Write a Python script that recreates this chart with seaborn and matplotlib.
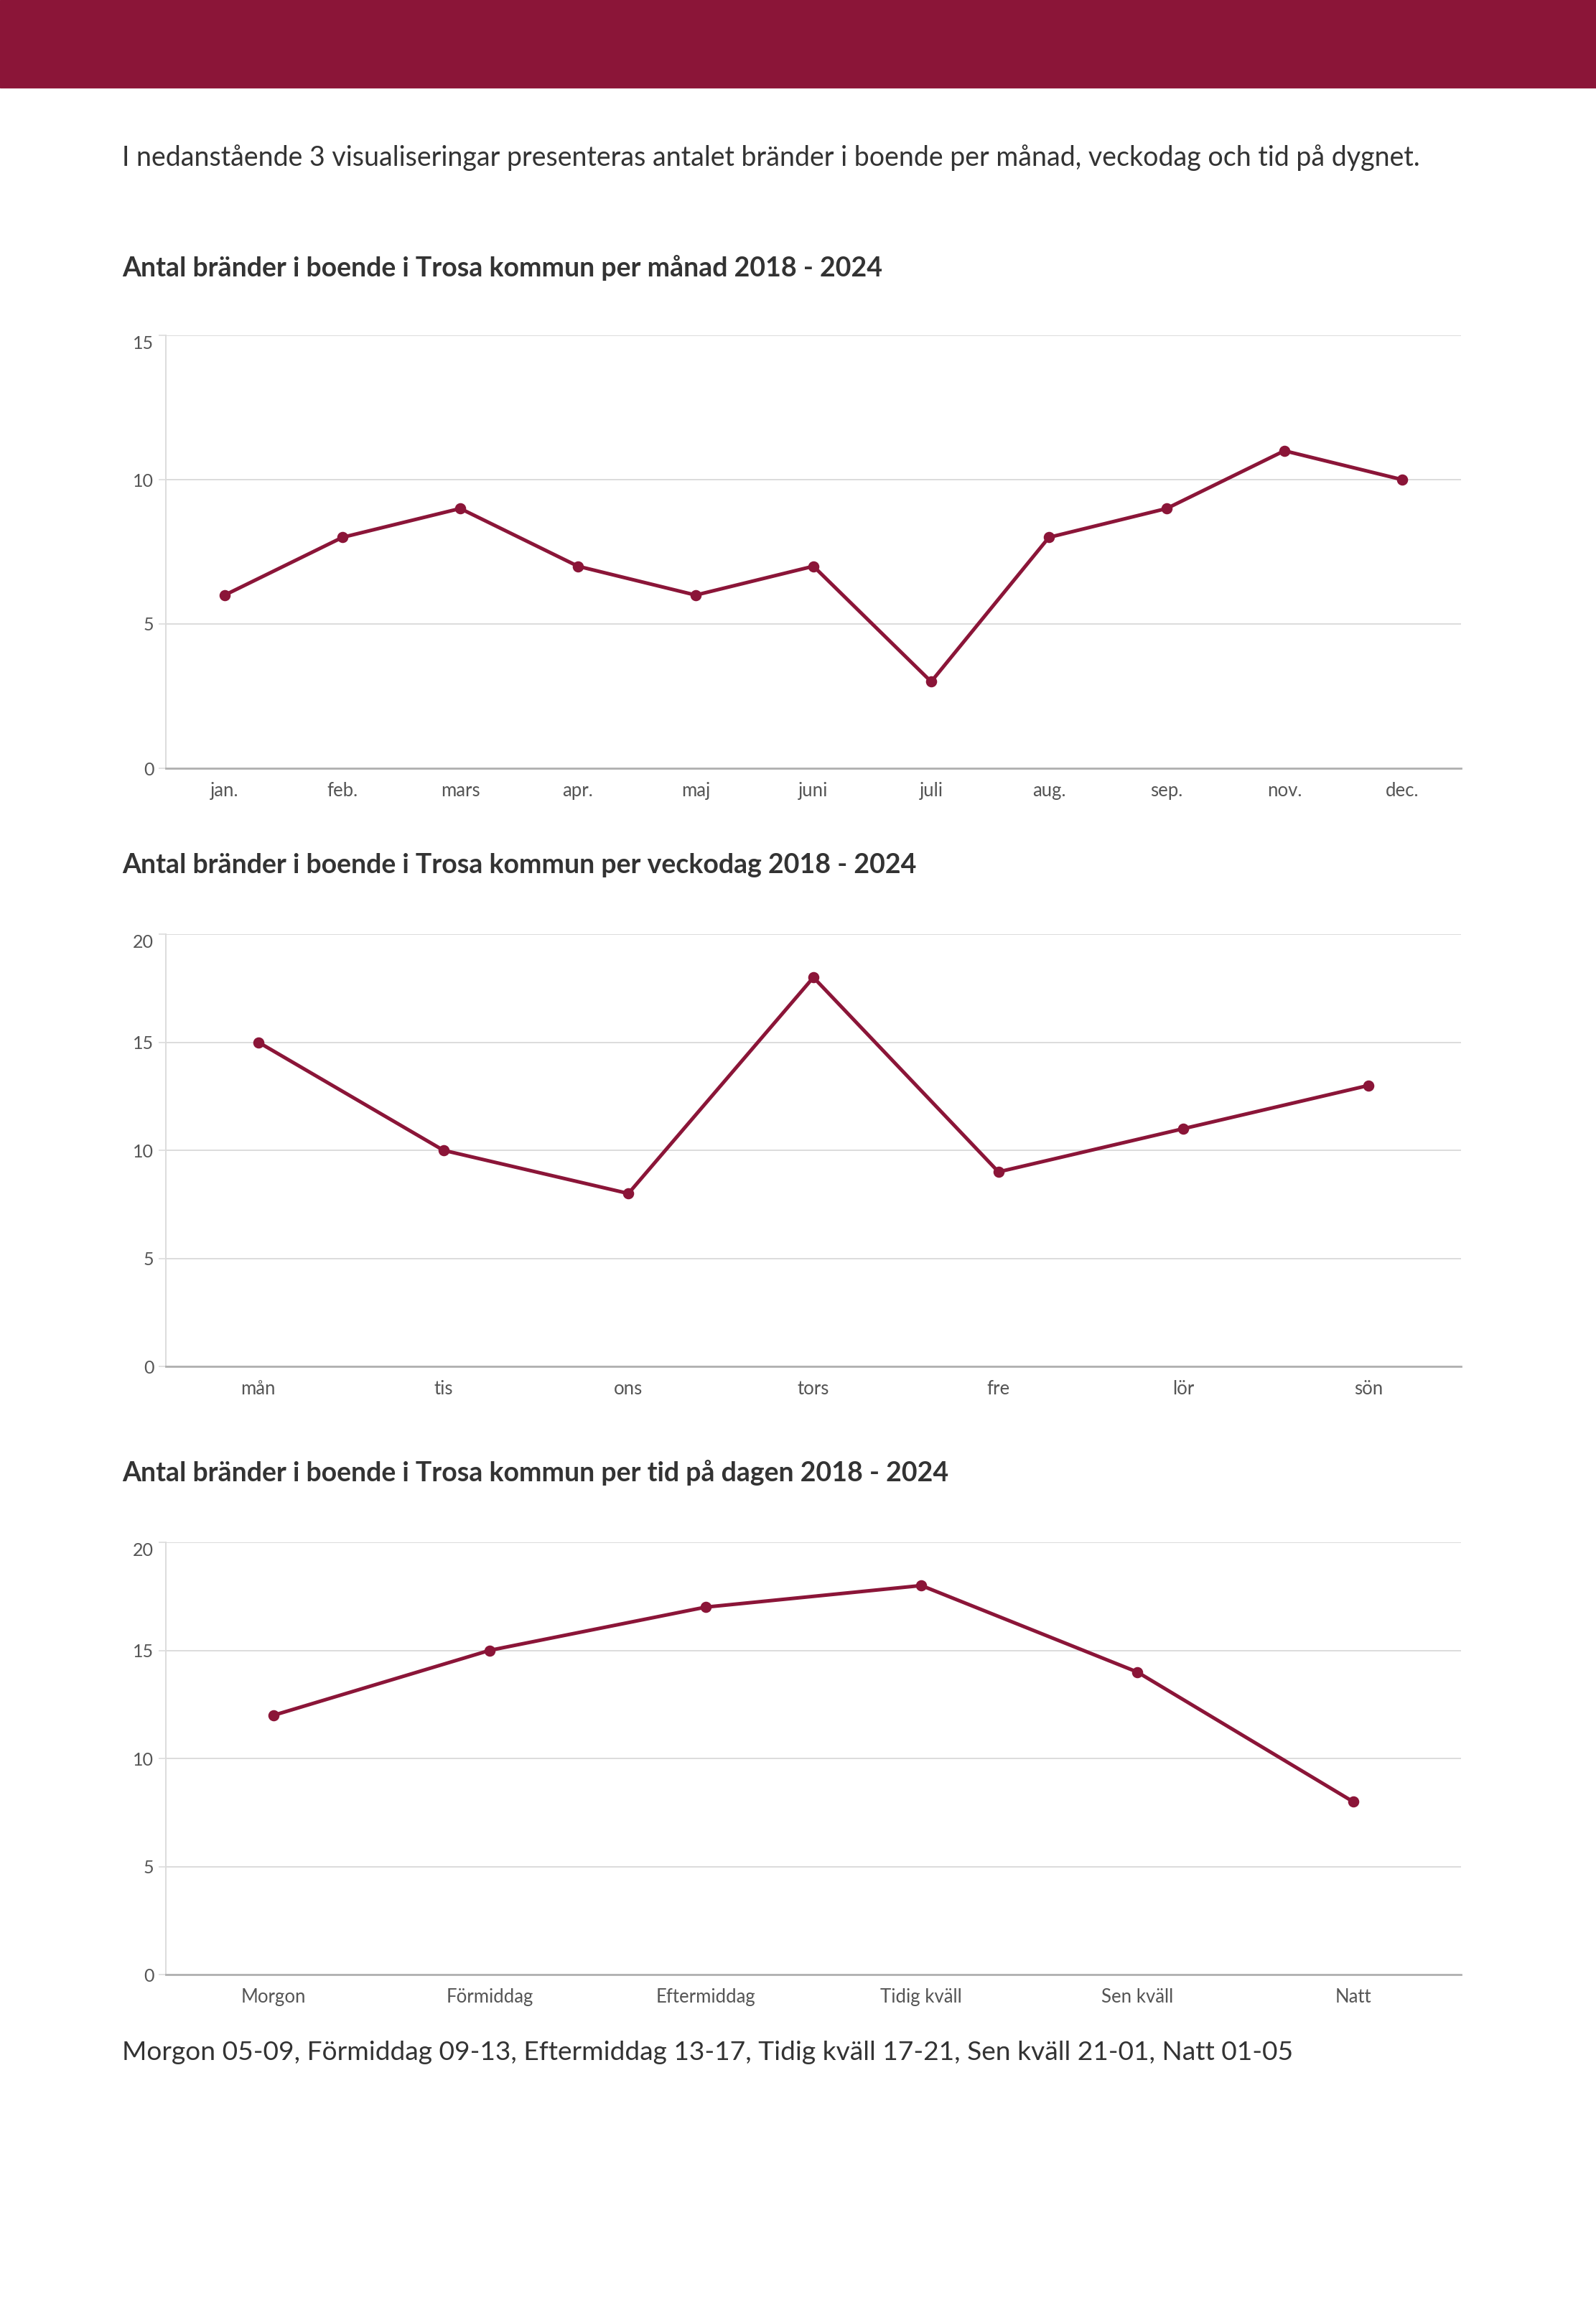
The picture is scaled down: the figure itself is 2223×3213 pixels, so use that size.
import matplotlib
matplotlib.use("Agg")
import matplotlib.pyplot as plt
import matplotlib.patches as patches
import seaborn as sns

# Data
manader = ["jan.", "feb.", "mars", "apr.", "maj", "juni", "juli", "aug.", "sep.", "nov.", "dec."]
per_manad = [6, 8, 9, 7, 6, 7, 3, 8, 9, 11, 10]

veckodagar = ["mån", "tis", "ons", "tors", "fre", "lör", "sön"]
per_veckodag = [15, 10, 8, 18, 9, 11, 13]

tider = ["Morgon", "Förmiddag", "Eftermiddag", "Tidig kväll", "Sen kväll", "Natt"]
per_tid = [12, 15, 17, 18, 14, 8]

y_ticks_manad = [0, 5, 10, 15]
y_ticks_dag = [0, 5, 10, 15, 20]
y_ticks_tid = [0, 5, 10, 15, 20]

intro = ("I nedanstående 3 visualiseringar presenteras antalet bränder i boende "
         "per månad, veckodag och tid på dygnet.")
titlar = [
    "Antal bränder i boende i Trosa kommun per månad 2018 - 2024",
    "Antal bränder i boende i Trosa kommun per veckodag 2018 - 2024",
    "Antal bränder i boende i Trosa kommun per tid på dagen 2018 - 2024",
]
fotnot = ("Morgon 05-09, Förmiddag 09-13, Eftermiddag 13-17, Tidig kväll 17-21, "
          "Sen kväll 21-01, Natt 01-05")

VINROD = "#8B1538"
TEXT = "#333333"
TICK = "#555555"

sns.set_theme(style="white")
plt.rcParams["font.family"] = ["Lato", "DejaVu Sans"]

W, H = 2223, 3213
fig = plt.figure(figsize=(W / 100, H / 100), dpi=100)
fig.patch.set_facecolor("white")

# header band
fig.add_artist(patches.Rectangle((0, 1 - 122 / H), 1, 122 / H, transform=fig.transFigure,
                                 color=VINROD, zorder=0))

fig.text(170 / W, 1 - 220 / H, intro, fontsize=27, color=TEXT, va="center", ha="left")


def rita(top, bottom, kategorier, varden, yticks, titel, titel_y):
    left, right = 231, 2035
    ax = fig.add_axes([left / W, 1 - bottom / H, (right - left) / W, (bottom - top) / H])
    sns.pointplot(x=kategorier, y=varden, order=kategorier, color=VINROD, ax=ax,
                  errorbar=None, markers="o", linewidth=3.6, markersize=8.5)
    ax.set_ylim(yticks[0], yticks[-1])
    ax.set_yticks(yticks)
    ax.set_xlim(-0.5, len(kategorier) - 0.5)
    ax.grid(axis="y", color="#dcdcdc", linewidth=1.4)
    ax.set_axisbelow(True)
    for s in ["top", "right"]:
        ax.spines[s].set_visible(False)
    ax.spines["left"].set_color("#dcdcdc")
    ax.spines["left"].set_linewidth(1.4)
    ax.spines["bottom"].set_color("#b0b0b0")
    ax.spines["bottom"].set_linewidth(2)
    ax.tick_params(axis="y", left=True, length=7, width=1.2, color="#dcdcdc",
                   labelsize=18, labelcolor=TICK, pad=5)
    ax.tick_params(axis="x", bottom=False, labelsize=18.5, labelcolor=TICK, pad=8)
    ax.set_xlabel("")
    ax.set_ylabel("")
    ax.get_yticklabels()[-1].set_va("top")
    fig.text(170 / W, 1 - titel_y / H, titel, fontsize=27, fontweight="bold",
             color=TEXT, va="center", ha="left")
    return ax


rita(467, 1070, manader, per_manad, y_ticks_manad, titlar[0], 373)
rita(1301, 1903, veckodagar, per_veckodag, y_ticks_dag, titlar[1], 1205)
rita(2148, 2750, tider, per_tid, y_ticks_tid, titlar[2], 2051)

fig.text(170 / W, 1 - 2858 / H, fotnot, fontsize=26.7, color=TEXT, va="center", ha="left")

fig.savefig("out.png", dpi=100, facecolor="white")
